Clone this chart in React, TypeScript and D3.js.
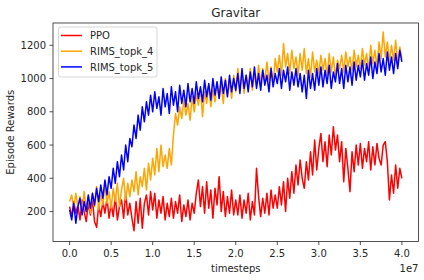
import * as d3 from 'd3';

// timesteps in units of 1e7, one sample every 0.025e7
const STEP = 0.025;

const ppo = [
  230, 170, 260, 190, 240, 150, 270, 200, 140, 250,
  180, 270, 140, 105, 240, 170, 260, 190, 280, 160,
  250, 170, 290, 150, 230, 270, 160, 310, 180, 250,
  160, 85, 260, 130, 280, 100, 250, 300, 180, 320,
  210, 310, 160, 270, 190, 290, 150, 250, 170, 280,
  160, 260, 190, 300, 140, 240, 170, 270, 150, 250,
  190, 310, 390, 230, 350, 190, 380, 220, 330, 160,
  340, 240, 410, 200, 320, 170, 290, 190, 330, 180,
  270, 180, 300, 160, 270, 190, 310, 150, 260, 180,
  460, 290, 170, 280, 190, 310, 180, 330, 220, 300,
  220, 350, 240, 380, 200, 400, 280, 440, 310, 480,
  360, 510, 400, 340, 500, 390, 560, 420, 630, 450,
  580, 670, 500, 620, 470, 660, 540, 710, 570, 660,
  500, 620, 380, 580, 460, 320, 560, 440, 600, 480,
  610, 460, 580, 500, 620, 450, 590, 480, 610, 520,
  480, 600, 620, 500, 270, 420, 310, 480, 340, 460,
  400,
];

const rimsTopk4 = [
  260, 300, 210, 310, 230, 290, 200, 320, 220, 290,
  190, 310, 230, 350, 210, 300, 240, 360, 250, 320,
  220, 340, 260, 370, 230, 330, 400, 270, 370, 290,
  390, 320, 440, 300, 410, 350, 460, 330, 490, 390,
  520, 420, 580, 440, 600, 470, 540, 460, 580, 480,
  660, 790, 720, 830, 760, 870, 780, 850, 750, 890,
  800, 910, 840, 940, 770, 920, 850, 960, 830, 930,
  860, 980, 880, 960, 850, 1000, 900, 980, 880, 1020,
  920, 1060, 940, 1030, 910, 1020, 950, 1060, 930, 1030,
  960, 1080, 970, 1060, 980, 1100, 990, 1070, 970, 1120,
  1040, 1140, 1020, 1210, 1070, 1150, 1030, 1170, 1060, 1130,
  1020, 1150, 1050, 1180, 1030, 1120, 1010, 1160, 1040, 1110,
  1030, 1140, 1050, 1120, 1020, 1150, 1040, 1130, 1010, 1110,
  1060, 1140, 1040, 1160, 1070, 1130, 1050, 1170, 1070, 1140,
  1060, 1180, 1080, 1150, 1050, 1200, 1090, 1170, 1070, 1220,
  1120, 1280, 1130, 1220, 1100, 1200, 1110, 1230, 1090, 1190,
  1120,
];

const rimsTopk5 = [
  210, 150, 250, 130, 230, 280, 180, 260, 200, 300,
  220, 310, 240, 340, 260, 360, 280, 390, 300, 410,
  340, 460, 370, 500, 410, 540, 450, 600, 500, 640,
  590, 720, 640, 780, 690, 830, 740, 860, 780, 900,
  800, 920, 820, 890, 780, 940, 830, 910, 790, 950,
  840, 920, 800, 960, 850, 930, 830, 970, 860, 940,
  850, 980, 880, 950, 860, 990, 890, 970, 870, 1000,
  900, 980, 880, 1010, 910, 990, 890, 1020, 920, 1000,
  930, 1030, 910, 1060, 940, 1020, 920, 1040, 950, 1070,
  940, 1030, 930, 1050, 960, 1020, 920, 1060, 950, 1030,
  970, 1060, 940, 1050, 980, 1070, 930, 1040, 960, 1060,
  950, 1030, 920, 1020, 880, 1050, 940, 1030, 930, 1060,
  960, 1070, 950, 1050, 970, 1080, 940, 1040, 980, 1090,
  970, 1060, 940, 1080, 980, 1070, 960, 1100, 990, 1080,
  1010, 1110, 990, 1090, 1020, 1130, 1000, 1100, 1030, 1150,
  1040, 1120, 1020, 1160, 1050, 1130, 1030, 1150, 1060, 1170,
  1100,
];

const seriesNames = ['PPO', 'RIMS_topk_4', 'RIMS_topk_5'];
const seriesColors = ['#ff0000', '#ffa500', '#0000ff'];
const xTicks = [0, 0.5, 1, 1.5, 2, 2.5, 3, 3.5, 4];
const yTicks = [200, 400, 600, 800, 1000, 1200];

const W = 424;
const H = 280;
const margin = { top: 23, right: 5.5, bottom: 38.5, left: 53 };
const font = '"DejaVu Sans", sans-serif';
const ink = '#262626';

export default function App() {
  const x = d3.scaleLinear().domain([-0.2, 4.2]).range([margin.left, W - margin.right]);
  const y = d3.scaleLinear().domain([20, 1334]).range([H - margin.bottom, margin.top]);
  const line = d3
    .line<number>()
    .x((_, i) => x(i * STEP))
    .y((d) => y(d));

  const all = [ppo, rimsTopk4, rimsTopk5];
  const [x0, x1] = x.range();
  const [yb, yt] = y.range();

  return (
    <div style={{ position: 'fixed', left: 0, top: 0 }}>
      <svg width={W} height={H} style={{ display: 'block', background: '#fff' }}>
        <defs>
          <clipPath id="plot">
            <rect x={x0} y={yt} width={x1 - x0} height={yb - yt} />
          </clipPath>
        </defs>
        <g clipPath="url(#plot)">
          {all.map((s, i) => (
            <path
              key={seriesNames[i]}
              d={line(s) || ''}
              fill="none"
              stroke={seriesColors[i]}
              strokeWidth={1.5}
              strokeLinejoin="round"
            />
          ))}
        </g>
        <rect x={x0} y={yt} width={x1 - x0} height={yb - yt} fill="none" stroke={ink} strokeWidth={0.8} />

        {xTicks.map((t) => (
          <g key={t}>
            <line x1={x(t)} x2={x(t)} y1={yb} y2={yb + 3.5} stroke={ink} strokeWidth={0.8} />
            <text x={x(t)} y={yb + 15.5} textAnchor="middle" fontSize={10} fontFamily={font} fill={ink}>
              {t.toFixed(1)}
            </text>
          </g>
        ))}
        {yTicks.map((t) => (
          <g key={t}>
            <line x1={x0 - 3.5} x2={x0} y1={y(t)} y2={y(t)} stroke={ink} strokeWidth={0.8} />
            <text x={x0 - 7} y={y(t) + 3.6} textAnchor="end" fontSize={10} fontFamily={font} fill={ink}>
              {t}
            </text>
          </g>
        ))}

        <text x={(x0 + x1) / 2} y={17} textAnchor="middle" fontSize={12} fontFamily={font} fill={ink}>
          Gravitar
        </text>
        <text x={(x0 + x1) / 2} y={271.5} textAnchor="middle" fontSize={10} fontFamily={font} fill={ink}>
          timesteps
        </text>
        <text x={x1} y={271.5} textAnchor="end" fontSize={10} fontFamily={font} fill={ink}>
          1e7
        </text>
        <text
          transform={`translate(14,${(yt + yb) / 2}) rotate(-90)`}
          textAnchor="middle"
          fontSize={10}
          fontFamily={font}
          fill={ink}
        >
          Episode Rewards
        </text>

        <g>
          <rect x={58.5} y={27} width={98.5} height={50} rx={2} fill="#fff" fillOpacity={0.8} stroke="#cccccc" strokeWidth={0.8} />
          {seriesNames.map((n, i) => (
            <g key={n}>
              <line x1={61} x2={82} y1={35.5 + i * 15.7} y2={35.5 + i * 15.7} stroke={seriesColors[i]} strokeWidth={1.5} />
              <text x={90} y={39.2 + i * 15.7} fontSize={10} fontFamily={font} fill={ink}>
                {n}
              </text>
            </g>
          ))}
        </g>
      </svg>
    </div>
  );
}
